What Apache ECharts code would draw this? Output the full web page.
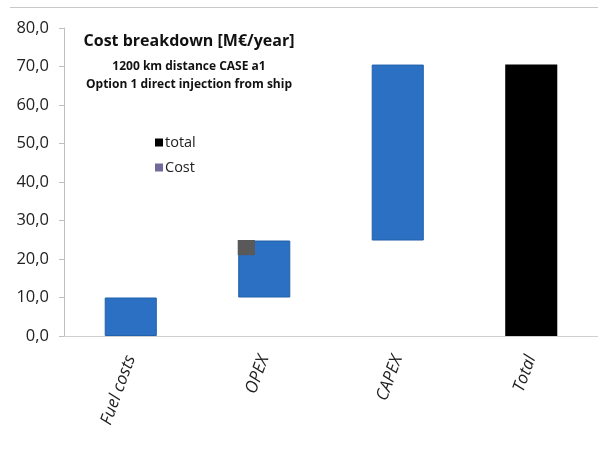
<!DOCTYPE html>
<html>
<head>
<meta charset="utf-8">
<style>
  html, body { margin: 0; padding: 0; background: #fff; }
  #chart { width: 598px; height: 450px; }
</style>
<script src="https://cdn.jsdelivr.net/npm/echarts@6/dist/echarts.min.js"></script>
</head>
<body>
<div id="chart"></div>
<script>
// Waterfall of yearly cost components, M€/year
const categories = ['Fuel costs', 'OPEX', 'CAPEX', 'Total'];
const baseValues = [0, 10.0, 24.8, 0];      // invisible offset of each step
const stepValues = [10.0, 14.8, 45.7, 70.5]; // visible height of each step
// grey "Cost" patch drawn on the OPEX step: [category index, from, to]
const costPatch = [[1, 21.0, 24.8]];
const yTicks = { min: 0, max: 80, interval: 10 };

const BLUE = '#2b70c2';
const BAR_FRAC = 0.39;

const chart = echarts.init(document.getElementById('chart'), null, { renderer: 'canvas' });

const font = '"Open Sans", "Noto Sans", sans-serif';

chart.setOption({
  animation: false,
  backgroundColor: '#ffffff',
  grid: { left: 64, top: 28, width: 540, height: 308 },
  title: [
    {
      text: 'Cost breakdown [M€/year]',
      left: 184, top: 28, textAlign: 'center',
      textStyle: { fontFamily: font, fontWeight: 'bold', fontSize: 16, color: '#111' }
    },
    {
      text: '1200 km distance CASE a1\nOption 1 direct injection from ship',
      left: 184, top: 53, textAlign: 'center',
      textStyle: { fontFamily: font, fontWeight: 'bold', fontSize: 12, lineHeight: 18, color: '#111' }
    }
  ],
  legend: {
    left: 150, top: 130, orient: 'vertical', itemGap: 10,
    itemWidth: 8, itemHeight: 8, icon: 'rect',
    textStyle: { fontFamily: font, fontSize: 14.5, color: '#222', padding: [0, 0, 0, -3] },
    data: [
      { name: 'total', itemStyle: { color: '#000000' } },
      { name: 'Cost', itemStyle: { color: '#716b9c' } }
    ]
  },
  xAxis: {
    type: 'category',
    data: categories,
    axisLine: { lineStyle: { color: '#cfcfcf', width: 1 } },
    axisTick: { show: false },
    axisLabel: {
      rotate: 70, margin: 20, interval: 0,
      fontFamily: font, fontSize: 17, fontStyle: 'italic', color: '#222'
    },
    splitLine: { show: false }
  },
  yAxis: {
    type: 'value',
    min: yTicks.min, max: yTicks.max, interval: yTicks.interval,
    axisLine: { show: true, lineStyle: { color: '#bfbfbf', width: 1 } },
    axisTick: { show: true, length: 5, lineStyle: { color: '#bfbfbf' } },
    axisLabel: {
      margin: 15, fontFamily: font, fontSize: 16.5, color: '#222',
      formatter: v => v.toFixed(1).replace('.', ',')
    },
    splitLine: { show: false }
  },
  graphic: [
    { type: 'line', shape: { x1: 10, y1: 7.5, x2: 598, y2: 7.5 }, style: { stroke: '#c8c8c8', lineWidth: 1 } }
  ],
  series: [
    {
      name: 'base', type: 'bar', stack: 'w', barWidth: (BAR_FRAC * 100) + '%',
      itemStyle: { color: 'transparent' },
      emphasis: { disabled: true },
      data: baseValues
    },
    {
      name: 'total', type: 'bar', stack: 'w', barWidth: (BAR_FRAC * 100) + '%',
      data: stepValues.map((v, i) => ({
        value: v,
        itemStyle: i === 3
          ? { color: '#000000' }
          : { color: BLUE, borderColor: '#2160ab', borderWidth: 1 }
      }))
    },
    {
      name: 'Cost', type: 'custom', z: 10,
      encode: { x: 0, y: [1, 2] },
      data: costPatch,
      renderItem: (params, api) => {
        const idx = api.value(0);
        const top = api.coord([idx, api.value(2)]);
        const bot = api.coord([idx, api.value(1)]);
        const band = api.size([1, 0])[0];
        const bw = band * BAR_FRAC;
        const x0 = top[0] - bw / 2;
        return {
          type: 'rect',
          shape: { x: x0 - 0.5, y: top[1] - 0.5, width: bw * 0.33, height: bot[1] - top[1] + 0.5 },
          style: { fill: '#595959' }
        };
      }
    }
  ]
});
</script>
</body>
</html>
